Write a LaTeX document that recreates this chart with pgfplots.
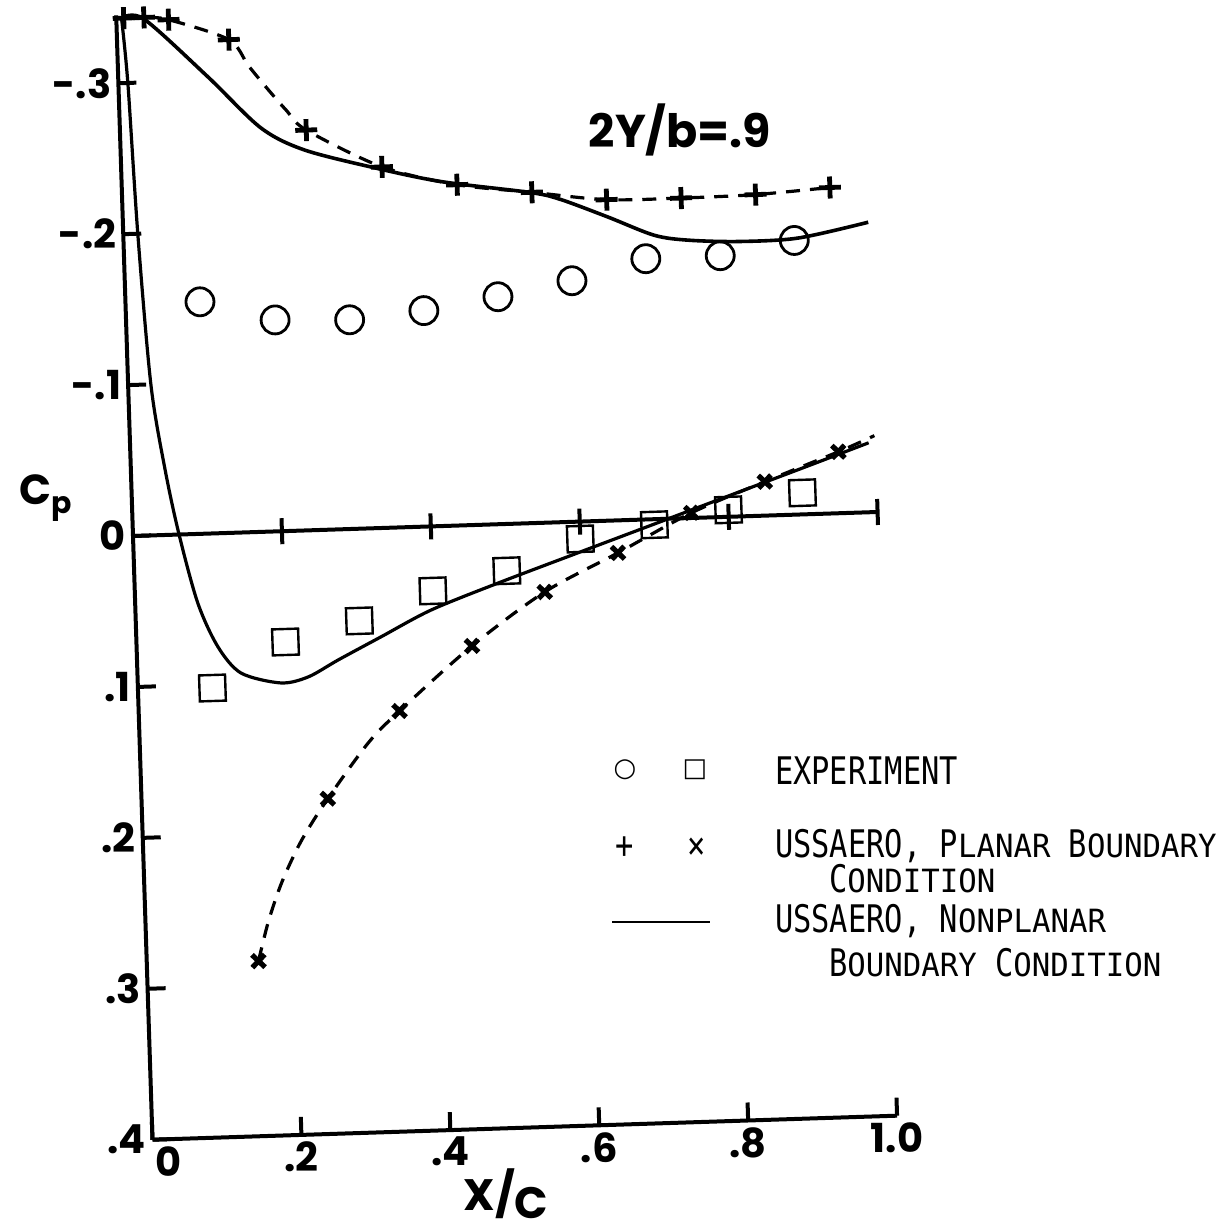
\documentclass[border=0pt]{standalone}
\usepackage{fontspec}
\usepackage{pgfplots}
\pgfplotsset{compat=1.18}
\newfontfamily\hand{Poppins}
\newfontfamily\legf[FakeStretch=0.8]{DejaVu Sans Mono}
\newfontfamily\legsc[FakeStretch=0.96]{DejaVu Sans Mono}
\newfontfamily\symf{DejaVu Sans}
\newcommand\lf{\legf\fontsize{19}{21}\selectfont}
\newcommand\sm[1]{{\legsc\fontsize{16}{18}\selectfont #1}}

\begin{document}
\begin{tikzpicture}
\useasboundingbox (0,0) rectangle (615pt,-616pt);
\begin{axis}[
  at={(66.5pt,-268pt)}, anchor=origin,
  rotate around={1.85:(current axis.origin)},
  scale only axis, width=372.5pt, height=562.5pt,
  xmin=0, xmax=1, ymin=-0.345, ymax=0.4,
  y dir=reverse,
  axis x line=bottom, axis y line=left,
  axis line style={-, line width=2pt},
  clip=false,
  tick align=inside,
  major tick length=9pt,
  tick style={line width=2pt, black},
  xtick={0,0.2,0.4,0.6,0.8,1.0},
  xticklabels={\hspace{16pt}0,.2,.4,.6,.8,1.0},
  ytick={-0.3,-0.2,-0.1,0,0.1,0.2,0.3,0.4},
  yticklabels={-.3,-.2,-.1,0,.1,.2,.3,.4},
  ticklabel style={font=\hand\bfseries\fontsize{20}{22}\selectfont},
]
% chord reference line at Cp = 0
\addplot[black, line width=2pt, mark=|, mark size=6.5pt, mark indices={2,3,4,5,6}]
  coordinates {(0,0) (0.2,0) (0.4,0) (0.6,0) (0.8,0) (1.0,0)};

% upper surface, nonplanar (solid)
\addplot[black, line width=1.8pt, smooth] coordinates {
  (0.007,-0.343) (0.037,-0.342) (0.12,-0.3025) (0.189,-0.2675) (0.246,-0.252)
  (0.339,-0.2387) (0.429,-0.228) (0.549,-0.2188) (0.589,-0.2135) (0.651,-0.201)
  (0.712,-0.188) (0.757,-0.184) (0.825,-0.182) (0.905,-0.183) (1.0,-0.192)};

% upper surface, planar (dashed line + marks)
\addplot[black, line width=1.6pt, dash pattern=on 7pt off 5pt, smooth] coordinates {
  (0.01,-0.343) (0.037,-0.343) (0.07,-0.341) (0.15,-0.3265) (0.175,-0.309)
  (0.20,-0.293) (0.225,-0.278) (0.25,-0.265) (0.35,-0.239) (0.45,-0.2256)
  (0.55,-0.219) (0.65,-0.2125) (0.75,-0.212) (0.85,-0.2127) (0.95,-0.2158)};
\addplot[black, only marks, mark=+, mark size=5.5pt, mark options={line width=2.4pt}] coordinates {
  (0.01,-0.343) (0.037,-0.343) (0.07,-0.341) (0.15,-0.3265) (0.25,-0.265)
  (0.35,-0.239) (0.45,-0.2256) (0.55,-0.219) (0.65,-0.2125) (0.75,-0.212)
  (0.85,-0.2127) (0.95,-0.2158)};

% experiment, upper
\addplot[black, only marks, mark=o, mark size=7pt, mark options={line width=1.4pt}] coordinates {
  (0.1,-0.1536) (0.2,-0.140) (0.3,-0.1385) (0.4,-0.143) (0.5,-0.1506)
  (0.6,-0.1596) (0.7,-0.1726) (0.8,-0.173) (0.9,-0.1815)};

% experiment, lower
\addplot[black, only marks, mark=square, mark size=6.5pt, mark options={line width=1.2pt}] coordinates {
  (0.1,0.1023) (0.2,0.0734) (0.3,0.061) (0.4,0.0427) (0.5,0.031)
  (0.6,0.0115) (0.7,0.0037) (0.8,-0.0046) (0.9,-0.0143)};

% lower surface, nonplanar (solid)
\addplot[black, line width=1.6pt, smooth] coordinates {
  (0.007,-0.343) (0.0127,-0.300) (0.0196,-0.199) (0.0306,-0.0997) (0.046,-0.043)
  (0.062,0.0003) (0.084,0.0457) (0.109,0.075) (0.139,0.093) (0.192,0.1004)
  (0.229,0.097) (0.27,0.0864) (0.3285,0.072) (0.397,0.0553) (0.488,0.0389)
  (0.6,0.020) (0.7,0.0032) (0.8,-0.0137) (0.9,-0.0305) (0.991,-0.046)};

% lower surface, planar (dashed line + marks)
\addplot[black, line width=1.6pt, dash pattern=on 7pt off 5pt, smooth] coordinates {
  (0.15,0.284) (0.165,0.258) (0.185,0.232) (0.213,0.205) (0.25,0.178)
  (0.3066,0.142) (0.35,0.1215) (0.45,0.080) (0.55,0.0458) (0.65,0.0215)
  (0.75,-0.0034) (0.85,-0.0225) (0.95,-0.0407) (0.999,-0.0506)};
\addplot[black, only marks, mark=x, mark size=4.5pt, mark options={line width=2.6pt}] coordinates {
  (0.15,0.284) (0.25,0.178) (0.35,0.1215) (0.45,0.080) (0.55,0.0458)
  (0.65,0.0215) (0.75,-0.0034) (0.85,-0.0225) (0.95,-0.0407)};
\end{axis}

% titles and axis names
\node[font=\hand\bfseries\fontsize{23}{25}\selectfont] at (340pt,-65pt) {2Y/b=.9};
\node[font=\hand\bfseries\fontsize{21}{23}\selectfont] at (23pt,-249pt)
  {C\raisebox{-0.35ex}{\fontsize{15}{15}\selectfont p}};
\node[font=\hand\bfseries\fontsize{22}{24}\selectfont] at (253pt,-597pt)
  {X/\raisebox{-0.3ex}{C}};

% legend
\node[font=\symf\fontsize{13}{13}\selectfont] at (312.5pt,-385pt) {○};
\node[font=\symf\fontsize{13}{13}\selectfont] at (347.5pt,-385pt) {□};
\node[font=\lf] at (312.5pt,-424pt) {+};
\node[font=\lf] at (348.5pt,-424pt) {×};
\draw[line width=0.9pt] (306pt,-461pt) -- (355pt,-461pt);
\node[anchor=base west, font=\lf] at (384pt,-392pt) {EXPERIMENT};
\node[anchor=base west, font=\lf] at (384pt,-428.5pt) {USSAERO, P\sm{LANAR} B\sm{OUNDARY}};
\node[anchor=base west, font=\lf] at (411pt,-446pt) {C\sm{ONDITION}};
\node[anchor=base west, font=\lf] at (384pt,-466pt) {USSAERO, N\sm{ONPLANAR}};
\node[anchor=base west, font=\lf] at (411pt,-488pt) {B\sm{OUNDARY} C\sm{ONDITION}};
\end{tikzpicture}
\end{document}
